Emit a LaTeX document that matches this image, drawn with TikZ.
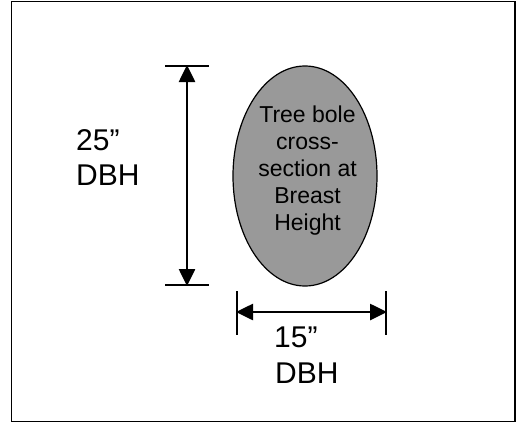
\documentclass[tikz,border=0pt]{standalone}
\usepackage{fontspec}
\setmainfont{Liberation Sans}
\usetikzlibrary{arrows.meta,shapes.geometric}
\definecolor{bolegray}{RGB}{153,153,153}
\tikzset{
  big/.style={font=\fontsize{30}{35}\selectfont, inner sep=0pt, anchor=base west},
  dimline/.style={line width=2.6pt, {Triangle[length=17pt,width=16pt]}-{Triangle[length=17pt,width=16pt]}, shorten <=-1pt, shorten >=-1pt},
  extline/.style={line width=1.8pt},
}
\begin{document}
\begin{tikzpicture}[x=1pt,y=-1pt]
\useasboundingbox (0,0) rectangle (516,423);
% frame
\draw[line width=1.3pt] (11.5,1.5) rectangle (515,421.5);
% ellipse
\node[ellipse, draw, line width=1.2pt, fill=bolegray, minimum width=144pt, minimum height=220pt, inner sep=0pt] (bole) at (305,176) {};
\node[font=\fontsize{23}{27}\selectfont, align=center, inner sep=0pt, anchor=base] (boletext) at (307.5,230)
  {Tree bole\\cross-\\section at\\Breast\\Height};
% vertical dimension
\coordinate (vt) at (187,66);
\coordinate (vb) at (187,285);
\coordinate (vtl) at (165,66);
\coordinate (vtr) at (209,66);
\coordinate (vbl) at (165,285);
\coordinate (vbr) at (209,285);
\draw[extline] (vtl) -- (vtr);
\draw[extline] (vbl) -- (vbr);
\draw[dimline] (vt) -- (vb);
% horizontal dimension
\coordinate (hl) at (237,312);
\coordinate (hr) at (386,312);
\coordinate (hlt) at (237,291);
\coordinate (hlb) at (237,335);
\coordinate (hrt) at (386,291);
\coordinate (hrb) at (386,335);
\draw[extline] (hlt) -- (hlb);
\draw[extline] (hrt) -- (hrb);
\draw[dimline] (hl) -- (hr);
% labels
\node[big] (v1) at (76,150) {25”};
\node[big] (v2) at (76,185) {DBH};
\node[big] (h1) at (274,347) {15”};
\node[big] (h2) at (275,383.5) {DBH};
\end{tikzpicture}
\end{document}
